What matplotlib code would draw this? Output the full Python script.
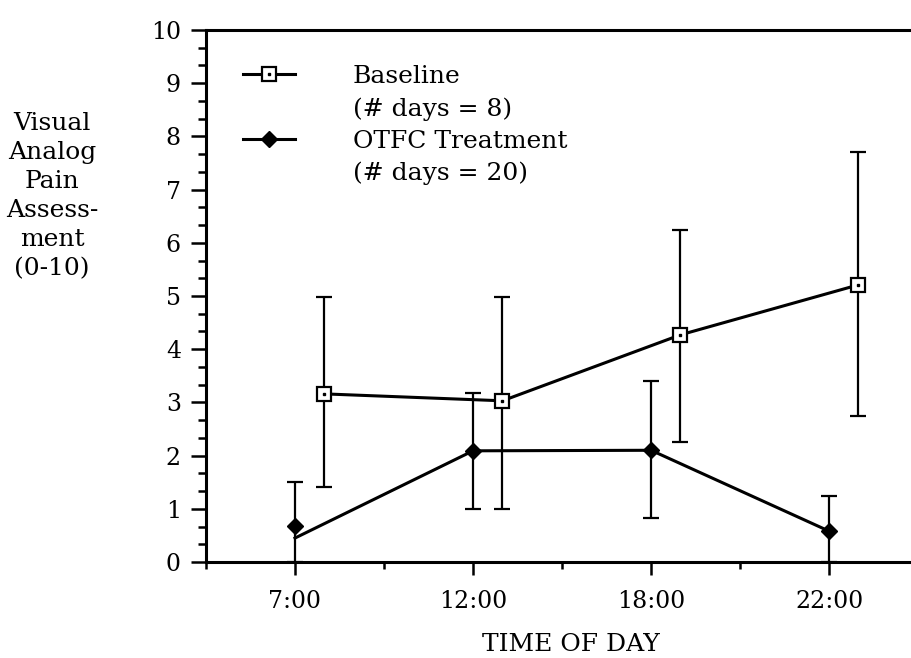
import matplotlib.pyplot as plt
from matplotlib.lines import Line2D
from matplotlib.legend_handler import HandlerTuple
from matplotlib.ticker import MultipleLocator
import numpy as np

times = ['7:00', '12:00', '18:00', '22:00']

baseline_mean = [3.16, 3.03, 4.27, 5.21]
baseline_low = [1.41, 1.0, 2.26, 2.74]
baseline_high = [4.98, 4.98, 6.24, 7.70]

treat_mean = [0.68, 2.09, 2.10, 0.58]
treat_line = [0.45, 2.09, 2.10, 0.58]
treat_low = [0.0, 1.0, 0.83, 0.0]
treat_high = [1.50, 3.17, 3.40, 1.24]

plt.rcParams['font.family'] = ['DejaVu Serif']
FS = 18
TFS = 17


def draw(ax):
    pos = np.arange(len(times)) * 2 + 1
    bpos = pos + 0.33

    b = np.array(baseline_mean)
    berr = [b - np.array(baseline_low), np.array(baseline_high) - b]
    t = np.array(treat_mean)
    terr = [t - np.array(treat_low), np.array(treat_high) - t]

    ax.errorbar(bpos, b, yerr=berr, fmt='none', ecolor='black',
                elinewidth=1.6, capsize=6, capthick=1.6, zorder=2)
    ax.errorbar(pos, t, yerr=terr, fmt='none', ecolor='black',
                elinewidth=1.6, capsize=6, capthick=1.6, zorder=2)

    ax.plot(bpos, b, color='black', lw=2.2, marker='s', ms=9.5,
            mfc='white', mec='black', mew=1.6, zorder=3)
    ax.plot(bpos, b, ls='none', marker='s', ms=1.6, color='black', zorder=4)
    ax.plot(pos, treat_line, color='black', lw=2.2, zorder=3)
    ax.plot(pos, t, ls='none', marker='D', ms=8.5, color='black', zorder=4)

    ax.set_xlim(0, 7.92)
    ax.set_ylim(0, 10)
    ax.set_xticks(pos, times)
    ax.set_xticks(pos - 1, minor=True)
    ax.set_yticks(range(11))
    ax.yaxis.set_minor_locator(MultipleLocator(1 / 3))

    for s in ['left', 'bottom', 'top']:
        ax.spines[s].set_linewidth(2.2)
    ax.spines['right'].set_visible(False)
    ax.tick_params(axis='y', which='major', length=11, width=1.8, pad=7, labelsize=TFS)
    ax.tick_params(axis='y', which='minor', length=6, width=1.8)
    ax.tick_params(axis='x', which='major', length=9, width=1.8, pad=11, labelsize=TFS)
    ax.tick_params(axis='x', which='minor', length=5, width=1.8)

    ax.text(0.518, -0.168, 'TIME OF DAY', transform=ax.transAxes,
            ha='center', va='baseline', fontsize=FS)

    h_base = (Line2D([], [], color='black', lw=2.2, marker='s', ms=9.5,
                     mfc='white', mec='black', mew=1.6),
              Line2D([], [], ls='none', marker='s', ms=1.6, color='black'))
    h_treat = Line2D([], [], color='black', lw=2.2, marker='D', ms=8.5)
    blank = Line2D([], [], ls='none')
    ax.legend([h_base, blank, h_treat, blank],
              ['Baseline', '(# days = 8)', 'OTFC Treatment', '(# days = 20)'],
              handler_map={tuple: HandlerTuple(ndivide=1, pad=0)},
              loc='upper left', bbox_to_anchor=(0.052, 0.934),
              frameon=False, fontsize=FS, borderpad=0, borderaxespad=0,
              handlelength=2.1, handletextpad=2.3, labelspacing=0.36)


def main():
    fig = plt.figure(figsize=(9.11, 6.58), dpi=100)
    ax = fig.add_axes([0.2261, 0.1459, 0.7739, 0.8085])
    draw(ax)
    fig.text(52 / 911, 1 - 196 / 658,
             'Visual\nAnalog\nPain\nAssess-\nment\n(0-10)',
             ha='center', va='center', multialignment='center',
             fontsize=FS, linespacing=1.34)
    fig.savefig('out.png', dpi=100)


if __name__ == '__main__':
    main()
